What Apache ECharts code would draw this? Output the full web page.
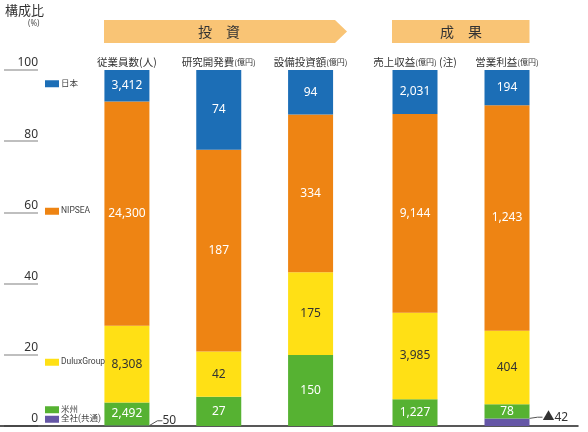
<!DOCTYPE html>
<html><head><meta charset="utf-8">
<script src="https://cdn.jsdelivr.net/npm/echarts@6/dist/echarts.min.js"></script>
<style>html,body{margin:0;padding:0;background:#fff}#c{width:588px;height:432px}</style>
</head><body><div id="c"></div>
<script>
// ---- data ----
const catMain = ['従業員数', '研究開発費', '設備投資額', '売上収益', '営業利益'];
const catUnit = ['(人)', '(億円)', '(億円)', '(億円)', '(億円)'];
const catNote = ['', '', '', '(注)', ''];
const segments = ['日本', 'NIPSEA', 'DuluxGroup', '米州', '全社(共通)'];
const japan    = [3412, 74, 94, 2031, 194];
const nipsea   = [24300, 187, 334, 9144, 1243];
const dulux    = [8308, 42, 175, 3985, 404];
const americas = [2492, 27, 150, 1227, 78];
const corporate= [50, null, null, null, -42];
const yTicks = [0, 20, 40, 60, 80, 100];
const groupNames = ['投　資', '成　果'];
const invIdx = [0, 1, 2];
const resIdx = [3, 4];

// ---- styling ----
const colors = ['#1C6EB6', '#EE8413', '#FFE015', '#56B232', '#6556A6'];
const labelColors = ['#fff', '#fff', '#333', '#fff', '#333'];
const FONT = '"Noto Sans", "Noto Sans CJK JP", sans-serif';
const JFONT = '"Noto Sans CJK JP", sans-serif';

const segData = [japan, nipsea, dulux, americas, corporate];
const totals = catMain.map((_, i) => segData.reduce((s, arr) => s + Math.abs(arr[i] || 0), 0));
function share(arr, i) { return arr[i] == null ? null : Math.abs(arr[i]) / totals[i] * 100; }
function fmt(v) { return v < 0 ? '▲' + Math.abs(v).toLocaleString('en-US') : v.toLocaleString('en-US'); }

const series = [];
// stacking order bottom -> top
const order = [4, 3, 2, 1, 0];
[[invIdx, 0], [resIdx, 1]].forEach(([idxs, g]) => {
  order.forEach(s => {
    const isCorp = s === 4;
    series.push({
      type: 'bar', name: segments[s], stack: 'g' + g,
      xAxisIndex: g, yAxisIndex: g, barWidth: 45,
      itemStyle: { color: colors[s] },
      data: idxs.map(i => ({ value: share(segData[s], i), raw: segData[s][i] })),
      label: isCorp ? {
        show: true, position: 'right', distance: 0,
        color: '#333', fontSize: 12, fontFamily: FONT,
        formatter: p => p.data.raw == null ? '' : fmt(p.data.raw)
      } : {
        show: true, position: 'inside', color: labelColors[s], fontSize: 12, fontFamily: FONT,
        formatter: p => fmt(p.data.raw)
      },
      labelLayout: isCorp ? { dx: 13, dy: -5 } : undefined,
      labelLine: isCorp ? { show: true, length2: 5, lineStyle: { color: '#555', width: 1 } } : undefined,
      emphasis: { disabled: true }
    });
  });
});

function catLabel(i) {
  return catMain[i] + (catUnit[i] === '(人)' ? catUnit[i] : '{u|' + catUnit[i] + '}') + (catNote[i] ? ' ' + catNote[i] : '');
}
const xCommon = {
  type: 'category', position: 'top',
  axisLine: { show: false }, axisTick: { show: false },
  axisLabel: {
    margin: 3, interval: 0, hideOverlap: false, color: '#333', fontSize: 10.5, fontFamily: JFONT,
    rich: { u: { fontSize: 8, color: '#333', fontFamily: JFONT } }
  }
};
const yHidden = { type: 'value', min: 0, max: 100, show: false };

const legendTops = [79.5, 207, 358, 405.5, 415];
const legends = segments.map((n, k) => ({
  data: [n], left: 45, top: legendTops[k], padding: 0, itemGap: 0,
  itemWidth: 14, itemHeight: 7, icon: 'rect', selectedMode: false,
  textStyle: { fontSize: 8.5, color: '#444', fontFamily: '"Roboto", "Noto Sans CJK JP", sans-serif', padding: [0, 0, 0, -3] }
}));

const chart = echarts.init(document.getElementById('c'));
chart.setOption({
  animation: false,
  textStyle: { fontFamily: FONT },
  grid: [
    { left: 81, width: 275.5, top: 70, height: 356 },
    { left: 369, width: 184, top: 70, height: 356 },
    { left: 4, width: 34, top: 70, height: 356 },
    { left: 0, right: 10, top: 70, height: 356 }
  ],
  xAxis: [
    Object.assign({}, xCommon, { gridIndex: 0, data: invIdx.map(catLabel) }),
    Object.assign({}, xCommon, { gridIndex: 1, data: resIdx.map(catLabel) }),
    { gridIndex: 2, type: 'value', show: false },
    { gridIndex: 3, type: 'value', axisLine: { show: true, onZero: false, lineStyle: { color: '#222', width: 1.5 } },
      axisTick: { show: false }, axisLabel: { show: false }, splitLine: { show: false } }
  ],
  yAxis: [
    Object.assign({ gridIndex: 0 }, yHidden),
    Object.assign({ gridIndex: 1 }, yHidden),
    { gridIndex: 2, type: 'value', min: 0, max: 100, interval: 20, position: 'right',
      axisLine: { show: false }, axisTick: { show: false },
      axisLabel: { inside: true, margin: 0, align: 'right', verticalAlign: 'bottom', color: '#333', fontSize: 12, fontFamily: FONT, padding: [0, 0, 1, 0],
        formatter: v => yTicks.includes(v) ? String(v) : '' },
      splitLine: { show: true, lineStyle: { color: '#aaa', width: 1.5 } } },
    { gridIndex: 3, type: 'value', min: 0, max: 100, show: false }
  ],
  legend: legends,
  graphic: [
    { type: 'text', left: 5, top: 4, style: { text: '構成比', fill: '#333', font: '13px ' + JFONT } },
    { type: 'text', left: 28, top: 20, style: { text: '(%)', fill: '#555', font: '8px ' + FONT } },
    { type: 'polygon', shape: { points: [[104, 20], [335, 20], [347, 31.5], [335, 43], [104, 43]] }, style: { fill: '#F9C475' }, z: 0 },
    { type: 'text', x: 219, y: 31.5, style: { text: groupNames[0], font: '14px ' + JFONT, fill: '#333', align: 'center', verticalAlign: 'middle' } },
    { type: 'rect', shape: { x: 392, y: 20, width: 137.5, height: 23 }, style: { fill: '#F9C475' }, z: 0 },
    { type: 'text', x: 461, y: 31.5, style: { text: groupNames[1], font: '14px ' + JFONT, fill: '#333', align: 'center', verticalAlign: 'middle' } }
  ],
  series: series
});
</script></body></html>
